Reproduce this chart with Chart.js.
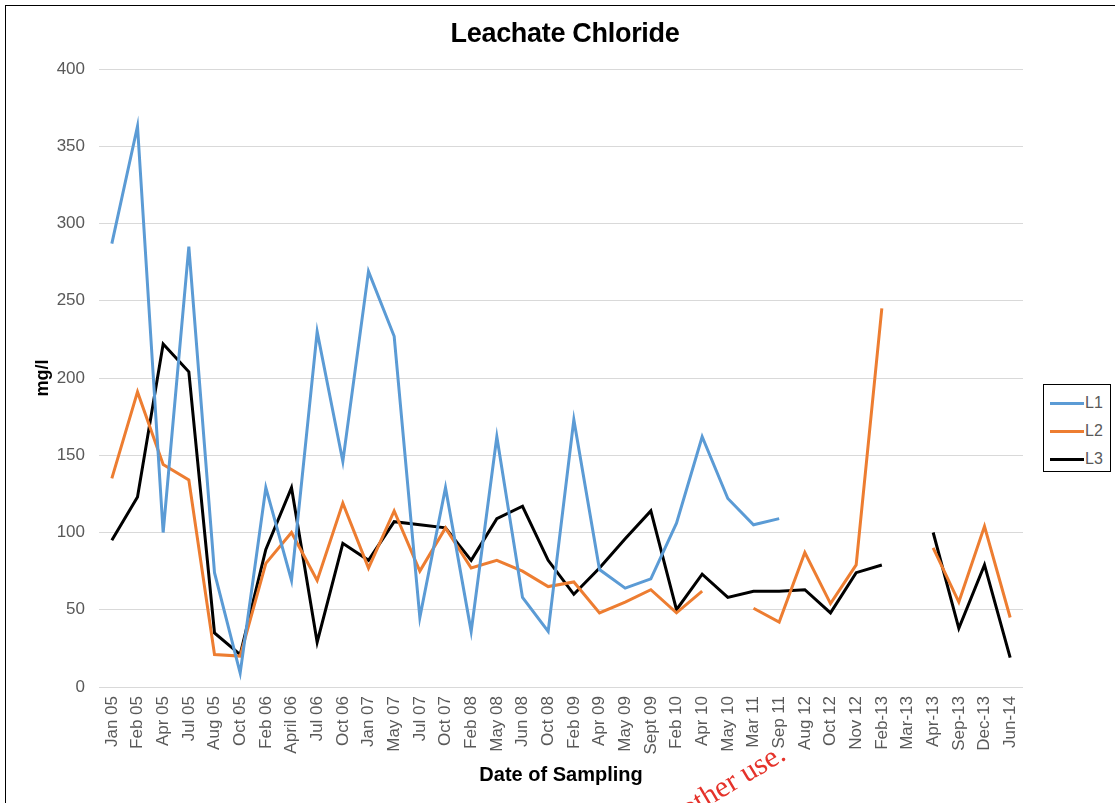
<!DOCTYPE html>
<html>
<head>
<meta charset="utf-8">
<title>Leachate Chloride</title>
<script src="https://cdn.jsdelivr.net/npm/chart.js@4/dist/chart.umd.min.js"></script>
<style>
  html, body { margin: 0; padding: 0; background: #fff; }
  #wrap { position: relative; width: 1115px; height: 803px; overflow: hidden; font-family: "Liberation Sans", Arial, sans-serif; }
  #frame { position: absolute; left: 5px; top: 5px; width: 1120px; height: 810px; border: 1px solid #000; box-sizing: border-box; pointer-events: none; }
  #chartTitle { position: absolute; left: 0; top: 17px; width: 1130px; text-align: center; font-weight: bold; font-size: 27px; line-height: 32px; color: #000; letter-spacing: -0.3px; }
  #legend { position: absolute; left: 1043px; top: 384px; width: 68px; height: 88px; border: 1px solid #000; box-sizing: border-box; background: #fff; }
  .lg-item { position: absolute; left: 6px; height: 20px; display: flex; align-items: center; font-size: 16px; color: #595959; }
  .lg-line { width: 34px; height: 3px; margin-right: 1px; }
  #stamp { position: absolute; left: 690px; top: 793px; font-family: "Liberation Serif", "Times New Roman", serif; font-size: 30px; line-height: 30px; color: #e5322a; transform-origin: 0 100%; transform: rotate(-31deg); white-space: nowrap; }
  canvas { position: absolute; left: 0; top: 0; }
</style>
</head>
<body>
<div id="wrap">
  <canvas id="c" width="1115" height="803"></canvas>
  <div id="chartTitle">Leachate Chloride</div>
  <div id="legend"></div>
  <div id="stamp">other use.</div>
  <div id="frame"></div>
</div>
<script>
// Sampling dates (category axis)
const categories = [
  "Jan 05", "Feb 05", "Apr 05", "Jul 05", "Aug 05", "Oct 05", "Feb 06", "April 06",
  "Jul 06", "Oct 06", "Jan 07", "May 07", "Jul 07", "Oct 07", "Feb 08", "May 08",
  "Jun 08", "Oct 08", "Feb 09", "Apr 09", "May 09", "Sept 09", "Feb 10", "Apr 10",
  "May 10", "Mar 11", "Sep 11", "Aug 12", "Oct 12", "Nov 12", "Feb-13", "Mar-13",
  "Apr-13", "Sep-13", "Dec-13", "Jun-14"
];

// Chloride concentration, mg/l (null = not sampled)
const l1Values = [
  287, 363, 100, 285, 74, 9, 129, 69,
  230, 146, 269, 227, 45, 129, 36, 162,
  58, 36, 173, 76, 64, 70, 106, 162,
  122, 105, 109, null, null, null, null, null,
  null, null, null, null
];
const l2Values = [
  135, 191, 144, 134, 21, 20, 80, 100,
  69, 119, 77, 114, 75, 103, 77, 82,
  75, 65, 68, 48, 55, 63, 48, 62,
  null, 51, 42, 87, 54, 79, 245, null,
  90, 55, 104, 45
];
const l3Values = [
  95, 123, 222, 204, 35, 21, 89, 129,
  29, 93, 82, 107, 105, 103, 82, 109,
  117, 82, 60, 77, 96, 114, 50, 73,
  58, 62, 62, 63, 48, 74, 79, null,
  100, 38, 79, 19
];

// Y axis tick values
const yTicks = [0, 50, 100, 150, 200, 250, 300, 350, 400];

const seriesNames = ["L1", "L2", "L3"];
const seriesColors = ["#5B9BD5", "#ED7D31", "#000000"];
const seriesValues = [l1Values, l2Values, l3Values];

const datasets = seriesNames.map((name, i) => ({
  label: name,
  data: seriesValues[i],
  borderColor: seriesColors[i],
  backgroundColor: seriesColors[i],
  borderWidth: 3,
  pointRadius: 0,
  pointHoverRadius: 0,
  tension: 0,
  spanGaps: false,
  borderJoinStyle: "miter",
  borderCapStyle: "butt"
}));

const chart = new Chart(document.getElementById("c"), {
  type: "line",
  data: { labels: categories, datasets },
  options: {
    responsive: false,
    animation: false,
    layout: { padding: { top: 69, right: 92, bottom: 0, left: 0 } },
    plugins: {
      legend: { display: false },
      title: { display: false },
      tooltip: { enabled: false }
    },
    scales: {
      x: {
        type: "category",
        offset: true,
        grid: { display: false, drawTicks: false },
        border: { display: false },
        ticks: {
          autoSkip: false,
          minRotation: 90,
          maxRotation: 90,
          padding: 9,
          color: "#595959",
          font: { family: "Liberation Sans", size: 17 }
        },
        title: {
          display: true,
          text: "Date of Sampling",
          color: "#000",
          font: { family: "Liberation Sans", size: 20, weight: "bold" },
          padding: { top: 4, bottom: 16 }
        },
        afterFit(scale) { scale.height = 116; }
      },
      y: {
        min: yTicks[0],
        max: yTicks[yTicks.length - 1],
        afterBuildTicks(scale) { scale.ticks = yTicks.map(v => ({ value: v })); },
        grid: { color: "#D9D9D9", lineWidth: 1, drawTicks: false },
        border: { display: false },
        ticks: {
          padding: 14,
          color: "#595959",
          font: { family: "Liberation Sans", size: 17 }
        },
        title: {
          display: true,
          text: "mg/l",
          color: "#000",
          font: { family: "Liberation Sans", size: 18, weight: "bold" },
          padding: { top: 32, bottom: 0 }
        },
        afterFit(scale) { scale.width = 99; }
      }
    }
  }
});

// Legend built from the chart's own datasets
const legendEl = document.getElementById("legend");
chart.data.datasets.forEach((ds, i) => {
  const item = document.createElement("div");
  item.className = "lg-item";
  item.style.top = (8 + i * 28) + "px";
  const line = document.createElement("span");
  line.className = "lg-line";
  line.style.background = ds.borderColor;
  const txt = document.createElement("span");
  txt.textContent = ds.label;
  item.appendChild(line);
  item.appendChild(txt);
  legendEl.appendChild(item);
});
</script>
</body>
</html>
